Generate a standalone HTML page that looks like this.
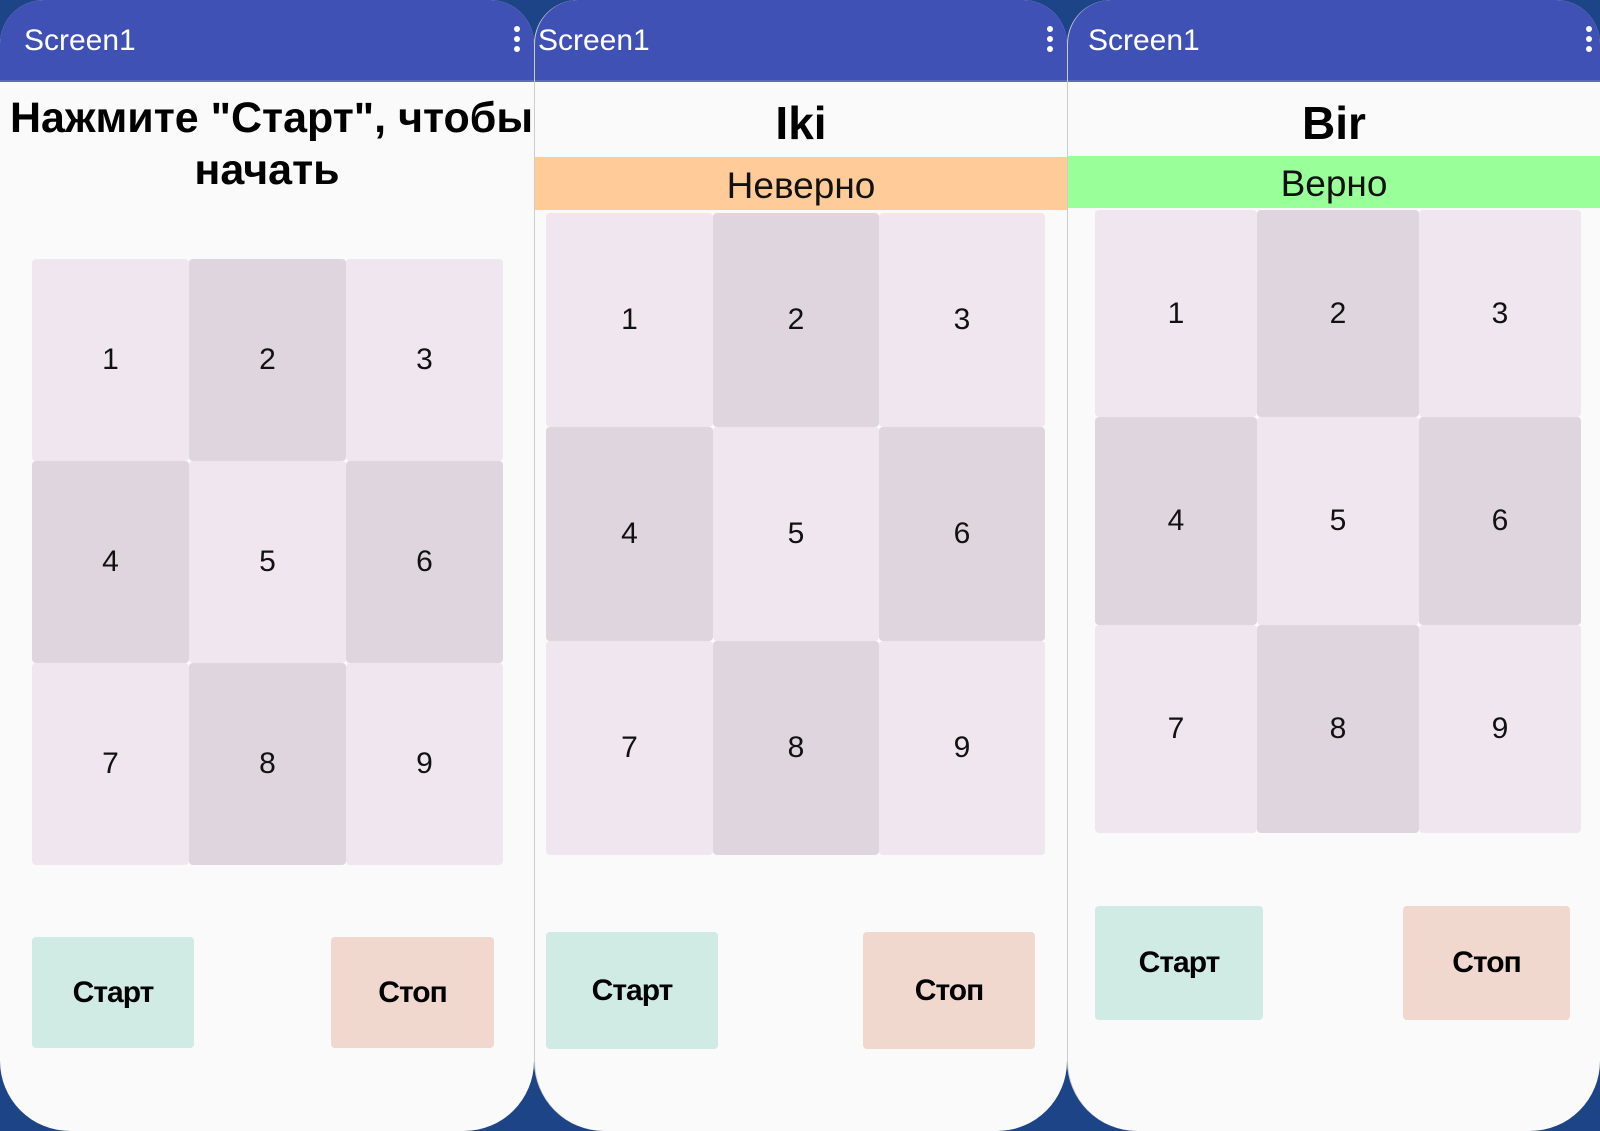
<!DOCTYPE html>
<html><head><meta charset="utf-8"><style>
*{margin:0;padding:0;box-sizing:border-box}
body{width:1600px;height:1131px;background:#1e4488;position:relative;overflow:hidden;font-family:"Liberation Sans",sans-serif}
.p{position:absolute;top:0;height:1131px;background:#fafafa;overflow:hidden;border-radius:44px 44px 70px 70px}
.hd{position:absolute;left:0;right:0;top:0;height:82px;background:#3f51b5;border-bottom:2px solid #5c6bc0}
.hd span{position:absolute;left:24px;top:24px;color:#fff;font-size:30px}
.dots{position:absolute;right:14px;top:26px;width:6px}
.dots i{display:block;width:6px;height:6px;border-radius:50%;background:#fff;margin-bottom:4px}
.t{position:absolute;left:0;right:0;text-align:center;font-weight:bold;color:#000}
.bar{position:absolute;left:0;right:0;text-align:center;font-size:37px;color:#111}
.c{position:absolute;background:#f0e6f0;border-radius:4px;display:flex;align-items:center;justify-content:center;font-size:30px;color:#111}
.d{background:#dfd5df}
.b{position:absolute;border-radius:4px;display:flex;align-items:center;justify-content:center;font-weight:bold;font-size:30px;color:#000;letter-spacing:-1px}
.s{background:#cfebe4}.x{background:#f0d8cf}
</style></head><body>

<div class="p" style="left:0;width:534px">
 <div class="hd"><span>Screen1</span><div class="dots"><i></i><i></i><i></i></div></div>
 <div class="t" style="left:10px;right:auto;width:700px;text-align:left;top:94px;font-size:43px;white-space:nowrap">Нажмите "Старт", чтобы</div>
 <div class="t" style="top:146px;font-size:43px">начать</div>
 <div class="c" style="left:32px;top:259px;width:157px;height:202px">1</div>
 <div class="c d" style="left:189px;top:259px;width:157px;height:202px">2</div>
 <div class="c" style="left:346px;top:259px;width:157px;height:202px">3</div>
 <div class="c d" style="left:32px;top:461px;width:157px;height:202px">4</div>
 <div class="c" style="left:189px;top:461px;width:157px;height:202px">5</div>
 <div class="c d" style="left:346px;top:461px;width:157px;height:202px">6</div>
 <div class="c" style="left:32px;top:663px;width:157px;height:202px">7</div>
 <div class="c d" style="left:189px;top:663px;width:157px;height:202px">8</div>
 <div class="c" style="left:346px;top:663px;width:157px;height:202px">9</div>
 <div class="b s" style="left:32px;top:937px;width:162px;height:111px">Старт</div>
 <div class="b x" style="left:331px;top:937px;width:163px;height:111px">Стоп</div>
</div>

<div class="p" style="left:534px;width:533px;border-left:1px solid #ccc">
 <div class="hd"><span style="left:3px">Screen1</span><div class="dots"><i></i><i></i><i></i></div></div>
 <div class="t" style="top:96px;font-size:46px">Iki</div>
 <div class="bar" style="top:157px;height:53px;line-height:58px;background:#ffcc99">Неверно</div>
 <div class="c" style="left:11px;top:213px;width:167px;height:214px">1</div>
 <div class="c d" style="left:178px;top:213px;width:166px;height:214px">2</div>
 <div class="c" style="left:344px;top:213px;width:166px;height:214px">3</div>
 <div class="c d" style="left:11px;top:427px;width:167px;height:214px">4</div>
 <div class="c" style="left:178px;top:427px;width:166px;height:214px">5</div>
 <div class="c d" style="left:344px;top:427px;width:166px;height:214px">6</div>
 <div class="c" style="left:11px;top:641px;width:167px;height:214px">7</div>
 <div class="c d" style="left:178px;top:641px;width:166px;height:214px">8</div>
 <div class="c" style="left:344px;top:641px;width:166px;height:214px">9</div>
 <div class="b s" style="left:11px;top:932px;width:172px;height:117px">Старт</div>
 <div class="b x" style="left:328px;top:932px;width:172px;height:117px">Стоп</div>
</div>

<div class="p" style="left:1067px;width:533px;border-left:1px solid #ccc">
 <div class="hd"><span style="left:20px">Screen1</span><div class="dots" style="right:8px"><i></i><i></i><i></i></div></div>
 <div class="t" style="top:96px;font-size:46px">Bir</div>
 <div class="bar" style="top:156px;height:52px;line-height:56px;background:#99ff99">Верно</div>
 <div class="c" style="left:27px;top:210px;width:162px;height:207px">1</div>
 <div class="c d" style="left:189px;top:210px;width:162px;height:207px">2</div>
 <div class="c" style="left:351px;top:210px;width:162px;height:207px">3</div>
 <div class="c d" style="left:27px;top:417px;width:162px;height:208px">4</div>
 <div class="c" style="left:189px;top:417px;width:162px;height:208px">5</div>
 <div class="c d" style="left:351px;top:417px;width:162px;height:208px">6</div>
 <div class="c" style="left:27px;top:625px;width:162px;height:208px">7</div>
 <div class="c d" style="left:189px;top:625px;width:162px;height:208px">8</div>
 <div class="c" style="left:351px;top:625px;width:162px;height:208px">9</div>
 <div class="b s" style="left:27px;top:906px;width:168px;height:114px">Старт</div>
 <div class="b x" style="left:335px;top:906px;width:167px;height:114px">Стоп</div>
</div>

</body></html>
